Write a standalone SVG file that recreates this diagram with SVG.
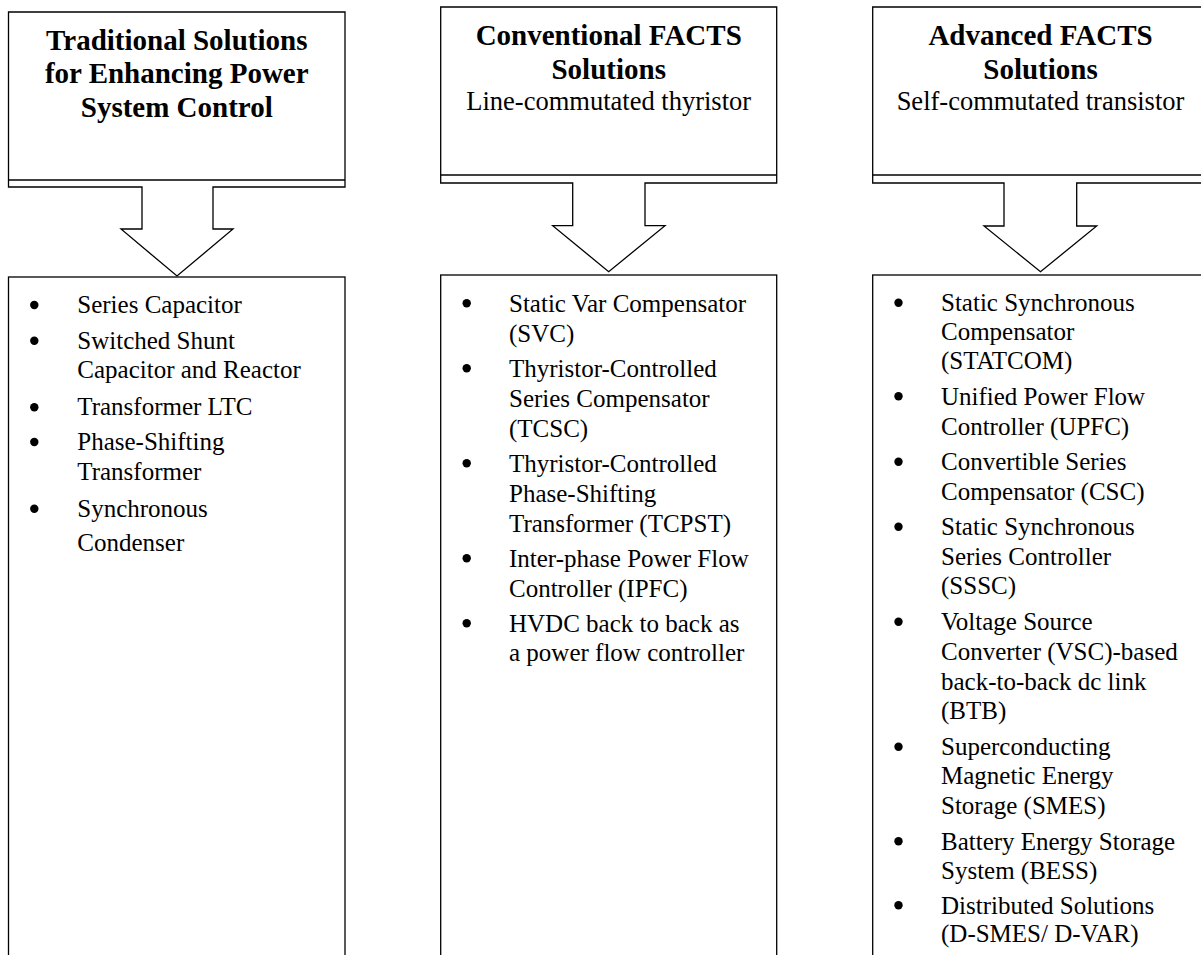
<svg xmlns="http://www.w3.org/2000/svg" width="1201" height="955" viewBox="0 0 1201 955">
<style>
.shape{fill:#fff;stroke:#000;stroke-width:1.3}
.ln{stroke:#000;stroke-width:1.3;fill:none}
.t{font-family:"Liberation Serif","Times New Roman",serif;fill:#000}
.h{font-size:29px;font-weight:bold;text-anchor:middle}
.s{font-size:26.5px;text-anchor:middle}
.b{font-size:25px}
.dot{fill:#000}
</style>
<rect width="1201" height="955" fill="#fff"/>
<g id="connectors">
<path class="shape" d="M8.5,12 H345 V187 H213 V229 H233 L177,276 L121,229 H142 V187 H8.5 Z"/>
<line class="ln" x1="8.5" y1="180" x2="345" y2="180"/>
<path class="shape" d="M440.7,7 H776.7 V183 H645 V225.7 H665 L608.7,271.7 L552.7,225.7 H572.7 V183 H440.7 Z"/>
<line class="ln" x1="440.7" y1="175" x2="776.7" y2="175"/>
<path class="shape" d="M872.7,7 H1210 V183 H1076.7 V226 H1096.7 L1040.5,271.7 L984,226 H1004 V183 H872.7 Z"/>
<line class="ln" x1="872.7" y1="175" x2="1210" y2="175"/>
</g>
<g id="title1">
<text class="t h" x="176.75" y="49.5">Traditional Solutions</text>
<text class="t h" x="176.75" y="83">for Enhancing Power</text>
<text class="t h" x="176.75" y="116.7">System Control</text>
</g>
<g id="title2">
<text class="t h" x="608.7" y="45">Conventional FACTS</text>
<text class="t h" x="608.7" y="79">Solutions</text>
<text class="t s" x="608.7" y="110">Line-commutated thyristor</text>
</g>
<g id="title3">
<text class="t h" x="1040.5" y="45">Advanced FACTS</text>
<text class="t h" x="1040.5" y="79">Solutions</text>
<text class="t s" x="1040.5" y="110">Self-commutated transistor</text>
</g>
<g id="list1">
<rect class="shape" x="8.5" y="277" width="336.5" height="700"/>
<circle class="dot" cx="34.3" cy="305" r="4.2"/>
<circle class="dot" cx="34.3" cy="340.7" r="4.2"/>
<circle class="dot" cx="34.3" cy="407.3" r="4.2"/>
<circle class="dot" cx="34.3" cy="442" r="4.2"/>
<circle class="dot" cx="34.3" cy="508.7" r="4.2"/>
<text class="t b" x="77.3" y="313.3">Series Capacitor</text>
<text class="t b" x="77.3" y="348.7">Switched Shunt</text>
<text class="t b" x="77.3" y="378.3">Capacitor and Reactor</text>
<text class="t b" x="77.3" y="415.3">Transformer LTC</text>
<text class="t b" x="77.3" y="450">Phase-Shifting</text>
<text class="t b" x="77.3" y="480">Transformer</text>
<text class="t b" x="77.3" y="516.7">Synchronous</text>
<text class="t b" x="77.3" y="550.7">Condenser</text>
</g>
<g id="list2">
<rect class="shape" x="440.7" y="275" width="336" height="700"/>
<circle class="dot" cx="466.7" cy="303.3" r="4.2"/>
<circle class="dot" cx="466.7" cy="368.3" r="4.2"/>
<circle class="dot" cx="466.7" cy="463.3" r="4.2"/>
<circle class="dot" cx="466.7" cy="558.3" r="4.2"/>
<circle class="dot" cx="466.7" cy="623.3" r="4.2"/>
<text class="t b" x="509" y="311.5">Static Var Compensator</text>
<text class="t b" x="509" y="341.5">(SVC)</text>
<text class="t b" x="509" y="376.5">Thyristor-Controlled</text>
<text class="t b" x="509" y="406.5">Series Compensator</text>
<text class="t b" x="509" y="436.5">(TCSC)</text>
<text class="t b" x="509" y="471.5">Thyristor-Controlled</text>
<text class="t b" x="509" y="501.5">Phase-Shifting</text>
<text class="t b" x="509" y="531.5">Transformer (TCPST)</text>
<text class="t b" x="509" y="566.5">Inter-phase Power Flow</text>
<text class="t b" x="509" y="596.5">Controller (IPFC)</text>
<text class="t b" x="509" y="631.5">HVDC back to back as</text>
<text class="t b" x="509" y="661">a power flow controller</text>
</g>
<g id="list3">
<rect class="shape" x="872.7" y="275" width="338" height="700"/>
<circle class="dot" cx="898.5" cy="302.8" r="4.2"/>
<circle class="dot" cx="898.5" cy="396.3" r="4.2"/>
<circle class="dot" cx="898.5" cy="461.8" r="4.2"/>
<circle class="dot" cx="898.5" cy="526.8" r="4.2"/>
<circle class="dot" cx="898.5" cy="621.8" r="4.2"/>
<circle class="dot" cx="898.5" cy="746.8" r="4.2"/>
<circle class="dot" cx="898.5" cy="841.3" r="4.2"/>
<circle class="dot" cx="898.5" cy="905.3" r="4.2"/>
<text class="t b" x="941" y="311">Static Synchronous</text>
<text class="t b" x="941" y="340">Compensator</text>
<text class="t b" x="941" y="369">(STATCOM)</text>
<text class="t b" x="941" y="404.5">Unified Power Flow</text>
<text class="t b" x="941" y="434.5">Controller (UPFC)</text>
<text class="t b" x="941" y="470">Convertible Series</text>
<text class="t b" x="941" y="499.5">Compensator (CSC)</text>
<text class="t b" x="941" y="535">Static Synchronous</text>
<text class="t b" x="941" y="565">Series Controller</text>
<text class="t b" x="941" y="594">(SSSC)</text>
<text class="t b" x="941" y="630">Voltage Source</text>
<text class="t b" x="941" y="660">Converter (VSC)-based</text>
<text class="t b" x="941" y="689.5">back-to-back dc link</text>
<text class="t b" x="941" y="718.5">(BTB)</text>
<text class="t b" x="941" y="755">Superconducting</text>
<text class="t b" x="941" y="784">Magnetic Energy</text>
<text class="t b" x="941" y="813.5">Storage (SMES)</text>
<text class="t b" x="941" y="849.5">Battery Energy Storage</text>
<text class="t b" x="941" y="878.5">System (BESS)</text>
<text class="t b" x="941" y="913.5">Distributed Solutions</text>
<text class="t b" x="941" y="942">(D-SMES/ D-VAR)</text>
</g>
</svg>
